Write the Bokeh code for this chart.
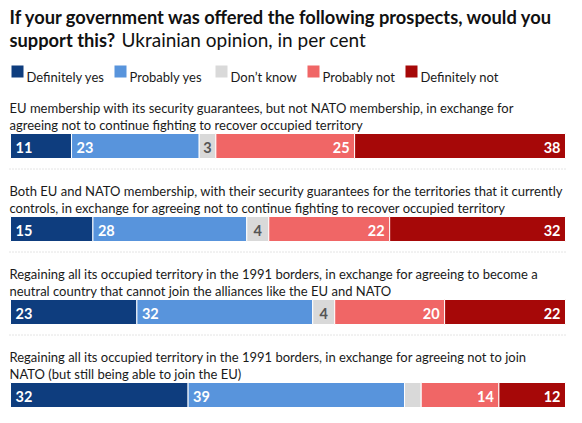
from bokeh.plotting import figure
from bokeh.models import Range1d
from bokeh.core.properties import value
from bokeh.embed import file_html
from bokeh.resources import INLINE

# ---------------- data ----------------
title_line1 = "If your government was offered the following prospects, would you"
title_line2 = "support this?"
subtitle = "Ukrainian opinion, in per cent"
categories = ["Definitely yes", "Probably yes", "Don\u2019t know", "Probably not", "Definitely not"]
colors = ["#0e3d7e", "#5894dc", "#d9d9d9", "#f06666", "#a60808"]
questions = [
    ["EU membership with its security guarantees, but not NATO membership, in exchange for",
     "agreeing not to continue fighting to recover occupied territory"],
    ["Both EU and NATO membership, with their security guarantees for the territories that it currently",
     "controls, in exchange for agreeing not to continue fighting to recover occupied territory"],
    ["Regaining all its occupied territory in the 1991 borders, in exchange for agreeing to become a",
     "neutral country that cannot join the alliances like the EU and NATO"],
    ["Regaining all its occupied territory in the 1991 borders, in exchange for agreeing not to join",
     "NATO (but still being able to join the EU)"],
]
definitely_yes = [11, 15, 23, 32]
probably_yes = [23, 28, 32, 39]
dont_know = [3, 4, 4, 3]
probably_not = [25, 22, 20, 14]
definitely_not = [38, 32, 22, 12]
show_label = [[True, True, True, True, True],
              [True, True, True, True, True],
              [True, True, True, True, True],
              [True, True, False, True, True]]

# ---------------- layout ----------------
W, H = 566, 407
PX = 5.55                     # pixels per percentage point
X0 = -10 / PX                 # data value at left edge of plot


def X(px):
    return X0 + px / PX


p = figure(width=W, height=H, output_backend="svg", toolbar_location=None,
           x_range=Range1d(X0, X0 + W / PX), y_range=Range1d(H, 0),
           min_border=0, outline_line_color=None, background_fill_color="white",
           border_fill_color="white")
p.axis.visible = False
p.grid.visible = False

TXT = "#1a1a1a"
FONT = value("Lato")

# title
p.text(x=[X(9)], y=[16], text=[title_line1], text_font=FONT, text_font_style="bold",
       text_font_size="18.3px", text_color="#111111", text_baseline="alphabetic")
p.text(x=[X(9)], y=[39], text=[title_line2], text_font=FONT, text_font_style="bold",
       text_font_size="18.3px", text_color="#111111", text_baseline="alphabetic")
p.text(x=[X(121)], y=[39], text=[subtitle], text_font=FONT,
       text_font_size="19px", text_color="#111111", text_baseline="alphabetic")

# legend
leg_x = [11, 114, 215, 307, 405]
for lx, cat, col in zip(leg_x, categories, colors):
    p.quad(left=[X(lx)], right=[X(lx + 12)], top=[65], bottom=[77], fill_color=col, line_color=None)
    p.text(x=[X(lx + 15)], y=[76], text=[cat], text_font=FONT, text_font_size="13px",
           text_color=TXT, text_baseline="alphabetic")

# rows
series = [definitely_yes, probably_yes, dont_know, probably_not, definitely_not]
BAR_TOP0, ROW, BAR_H = 133, 83, 25
for i, q in enumerate(questions):
    top = BAR_TOP0 + i * ROW
    bottom = top + BAR_H
    mid = top + BAR_H / 2
    p.text(x=[X(9)] * 2, y=[top - 26, top - 9], text=q, text_font=FONT, text_font_size="13px",
           text_color=TXT, text_baseline="alphabetic")
    vals = [s[i] for s in series]
    total = sum(vals)
    cum = 0
    for k, v in enumerate(vals):
        left = cum / total * 100
        cum += v
        right = cum / total * 100
        p.quad(left=[left], right=[right], top=[top], bottom=[bottom], fill_color=colors[k],
               line_color="white", line_width=1)
        if not show_label[i][k]:
            continue
        if k < 2:
            lx, align, col = left + 5 / PX, "left", "white"
        elif k == 2:
            lx, align, col = (left + right) / 2, "center", "#555555"
        else:
            lx, align, col = right - 5 / PX, "right", "white"
        p.text(x=[lx], y=[mid + 1], text=[str(v)], text_font=FONT, text_font_style="bold",
               text_font_size="14.5px", text_color=col, text_align=align, text_baseline="middle")
    if i < len(questions) - 1:
        p.line(x=[X(9), X(566)], y=[bottom + 10.5] * 2, line_color="#c8c8c8",
               line_dash="1 2", line_width=1)

open("out.html", "w").write(file_html(p, INLINE))
